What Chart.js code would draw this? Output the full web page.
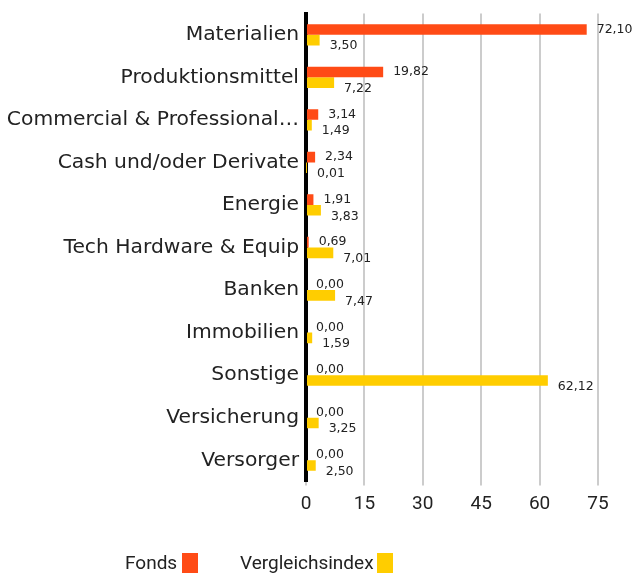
<!DOCTYPE html>
<html><head><meta charset="utf-8">
<script src="https://cdn.jsdelivr.net/npm/chart.js@4"></script>
<style>
html,body{margin:0;padding:0;background:#fff;}
#wrap{position:relative;width:635px;height:579px;}
canvas{position:absolute;left:0;top:0;}
.lg{position:absolute;font-family:Roboto,"Noto Sans",sans-serif;font-size:19px;color:#222;top:552px;line-height:22px;white-space:nowrap;}
.bx{position:absolute;width:16px;height:20px;top:553px;}
</style></head>
<body><div id="wrap"><canvas id="c" width="635" height="579"></canvas>
<span class="lg" id="l1" style="left:125px">Fonds</span><span class="bx" style="left:182px;background:#ff4b16"></span>
<span class="lg" id="l2" style="left:240px">Vergleichsindex</span><span class="bx" style="left:377px;background:#ffcd00"></span>
</div>
<script>
const categories=["Materialien","Produktionsmittel","Commercial & Professional…","Cash und/oder Derivate","Energie","Tech Hardware & Equip","Banken","Immobilien","Sonstige","Versicherung","Versorger"];
const fonds=[72.10,19.82,3.14,2.34,1.91,0.69,0.00,0.00,0.00,0.00,0.00];
const vergleichsindex=[3.50,7.22,1.49,0.01,3.83,7.01,7.47,1.59,62.12,3.25,2.50];
const xTicks=[0,15,30,45,60,75];
const seriesNames=["Fonds","Vergleichsindex"];
const FONT='Roboto, "Noto Sans", sans-serif';
const YFONT='"DejaVu Sans", sans-serif';
const fmt=v=>v.toFixed(2).replace('.',',');
const labelPlugin={id:'lbl',afterDatasetsDraw(chart){
  const ctx=chart.ctx;ctx.save();ctx.font='12.5px '+YFONT;ctx.fillStyle='#222';ctx.textBaseline='middle';ctx.textAlign='left';
  chart.data.datasets.forEach((ds,di)=>{
    const meta=chart.getDatasetMeta(di);
    meta.data.forEach((el,i)=>{
      const x=Math.max(el.x,el.base)+10;
      const y=el.y+(di===0?0:6);
      ctx.fillText(fmt(ds.data[i]),x,y);
    });
  });
  ctx.restore();
}};
new Chart(document.getElementById('c'),{
  type:'bar',
  data:{labels:categories,datasets:[
    {label:seriesNames[0],data:fonds,backgroundColor:'#ff4b16',categoryPercentage:0.5,barPercentage:1},
    {label:seriesNames[1],data:vergleichsindex,backgroundColor:'#ffcd00',categoryPercentage:0.5,barPercentage:1}
  ]},
  options:{indexAxis:'y',responsive:false,animation:false,
    layout:{padding:{top:13.5,right:37,left:0,bottom:0}},
    plugins:{legend:{display:false},tooltip:{enabled:false}},
    scales:{
      x:{min:0,max:75,afterBuildTicks(s){s.ticks=xTicks.map(v=>({value:v}));},
        afterFit(s){s.height=97.5;s.paddingLeft=0;s.paddingRight=0;},
        grid:{color:'#cccccc',lineWidth:2,tickLength:4,drawTicks:true},
        border:{display:false},
        ticks:{padding:7,color:'#222',font:{family:FONT,size:19}}},
      y:{afterFit(s){s.width=306;s.paddingTop=0;s.paddingBottom=0;},
        grid:{display:false,drawTicks:false},
        border:{display:true,color:'#000',width:4},
        ticks:{padding:7,color:'#222',font:{family:YFONT,size:20.3}}}
    }
  },
  plugins:[labelPlugin]
});
</script></body></html>
